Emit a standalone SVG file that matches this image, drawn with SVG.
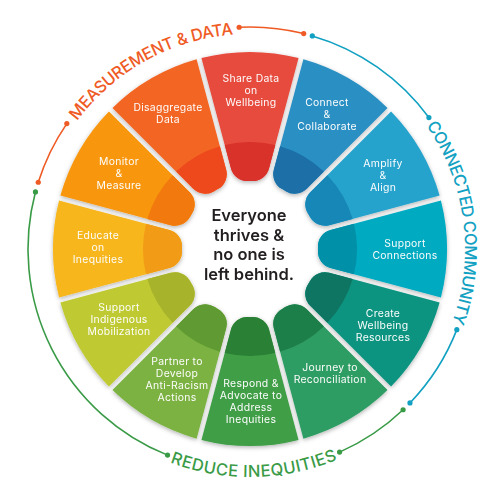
<svg xmlns="http://www.w3.org/2000/svg" width="500" height="500" viewBox="0 0 500 500">
<style>
.lbl{font-family:Inter,"Noto Sans",sans-serif;font-size:10.4px;letter-spacing:0.3px;fill:#fdfdfd;text-anchor:middle}
.ctr{font-family:Inter,"Noto Sans",sans-serif;font-size:16.5px;font-weight:600;fill:#231f20;text-anchor:middle}
.arc{font-family:Inter,"Noto Sans",sans-serif;font-size:16.5px;font-weight:500}
.ln{fill:none;stroke-width:1.6}
</style>
<defs>
<filter id="sh" x="-20%" y="-20%" width="140%" height="140%">
<feDropShadow dx="0" dy="1.5" stdDeviation="2" flood-color="#000" flood-opacity="0.3"/>
</filter>
<path id="seg" d="M48.57,-190.92 A197,197 0 0 0 -48.57,-190.92 L-19,-80.56 A17,17 0 0 0 -2.06,-67.97 A68,68 0 0 1 2.06,-67.97 A17,17 0 0 0 19,-80.56 Z"/>
<path id="band" d="M25.27,-103.98 A107,107 0 0 0 -25.27,-103.98 L-19,-80.56 A17,17 0 0 0 -2.06,-67.97 A68,68 0 0 1 2.06,-67.97 A17,17 0 0 0 19,-80.56 Z"/>
<path id="pTop" d="M77.17,121.11 A215,215 0 0 1 233.13,34.66"/>
<path id="pRight" d="M426.12,125.68 A215,215 0 0 1 452.03,322.53"/>
<path id="pBottom" d="M170.15,462.56 A228,228 0 0 0 337.25,459.64"/>
</defs>
<rect width="500" height="500" fill="#ffffff"/>

<g id="connectors">
<g stroke="#ef5b25" fill="#ef5b25">
<path class="ln" d="M38.27,182.24 A222,222 0 0 1 66.83,123.58"/>
<path class="ln" d="M239.16,27.26 A222,222 0 0 1 303.71,33.59"/>
<circle cx="38.27" cy="182.24" r="2.6" stroke="none"/><circle cx="66.83" cy="123.58" r="2.6" stroke="none"/>
<circle cx="239.16" cy="27.26" r="2.6" stroke="none"/><circle cx="303.71" cy="33.59" r="2.6" stroke="none"/>
</g>
<g stroke="#12a1c2" fill="#12a1c2">
<path class="ln" d="M312.31,35.92 A222,222 0 0 1 428.92,117.57"/>
<path class="ln" d="M456.83,329.64 A222,222 0 0 1 409.96,402.93"/>
<circle cx="312.31" cy="35.92" r="2.6" stroke="none"/><circle cx="428.92" cy="117.57" r="2.6" stroke="none"/>
<circle cx="456.83" cy="329.64" r="2.6" stroke="none"/><circle cx="409.96" cy="402.93" r="2.6" stroke="none"/>
</g>
<g stroke="#3a9b47" fill="#3a9b47">
<path class="ln" d="M403.1,409.77 A222,222 0 0 1 339.59,452.12"/>
<path class="ln" d="M167.56,455.12 A222,222 0 0 1 35.46,191.92"/>
<circle cx="403.1" cy="409.77" r="2.6" stroke="none"/><circle cx="339.59" cy="452.12" r="2.6" stroke="none"/>
<circle cx="167.56" cy="455.12" r="2.6" stroke="none"/><circle cx="35.46" cy="191.92" r="2.6" stroke="none"/>
</g>
</g>

<g id="theme-measurement"><text class="arc" fill="#ef5b25"><textPath href="#pTop" textLength="183.9" lengthAdjust="spacing">MEASUREMENT &amp; DATA</textPath></text></g>
<g id="theme-connected"><text class="arc" fill="#12a1c2"><textPath href="#pRight" textLength="206.4" lengthAdjust="spacing">CONNECTED COMMUNITY</textPath></text></g>
<g id="theme-reduce"><text class="arc" fill="#3a9b47"><textPath href="#pBottom" textLength="171.1" lengthAdjust="spacing">REDUCE INEQUITIES</textPath></text></g>

<g id="wheel" filter="url(#sh)">
<g id="n-share" transform="translate(250,249) rotate(0)"><use href="#seg" fill="#e74b3e"/><use href="#band" fill="#d8312a"/></g>
<g id="n-connect" transform="translate(250,249) rotate(30)"><use href="#seg" fill="#2a8fc3"/><use href="#band" fill="#1b6fa7"/></g>
<g id="n-amplify" transform="translate(250,249) rotate(60)"><use href="#seg" fill="#26a3cd"/><use href="#band" fill="#1787b7"/></g>
<g id="n-support-conn" transform="translate(250,249) rotate(90)"><use href="#seg" fill="#02aac1"/><use href="#band" fill="#0490a8"/></g>
<g id="n-create" transform="translate(250,249) rotate(120)"><use href="#seg" fill="#0a9481"/><use href="#band" fill="#087562"/></g>
<g id="n-journey" transform="translate(250,249) rotate(150)"><use href="#seg" fill="#2f9d64"/><use href="#band" fill="#1f7e48"/></g>
<g id="n-respond" transform="translate(250,249) rotate(180)"><use href="#seg" fill="#3f9e47"/><use href="#band" fill="#2a8034"/></g>
<g id="n-partner" transform="translate(250,249) rotate(210)"><use href="#seg" fill="#7bb243"/><use href="#band" fill="#5e9a30"/></g>
<g id="n-indigenous" transform="translate(250,249) rotate(240)"><use href="#seg" fill="#bfca33"/><use href="#band" fill="#a7b32a"/></g>
<g id="n-educate" transform="translate(250,249) rotate(270)"><use href="#seg" fill="#f6b61e"/><use href="#band" fill="#f29b16"/></g>
<g id="n-monitor" transform="translate(250,249) rotate(300)"><use href="#seg" fill="#f8970f"/><use href="#band" fill="#f27908"/></g>
<g id="n-disaggregate" transform="translate(250,249) rotate(330)"><use href="#seg" fill="#f36523"/><use href="#band" fill="#ee4a1b"/></g>
</g>

<g id="labels">
<text class="lbl"><tspan x="251" y="82">Share Data</tspan><tspan x="251" y="94">on</tspan><tspan x="251" y="106">Wellbeing</tspan></text>
<text class="lbl"><tspan x="327" y="106">Connect</tspan><tspan x="327" y="118">&amp;</tspan><tspan x="327" y="130">Collaborate</tspan></text>
<text class="lbl"><tspan x="383" y="167">Amplify</tspan><tspan x="383" y="179">&amp;</tspan><tspan x="383" y="191">Align</tspan></text>
<text class="lbl"><tspan x="405" y="247">Support</tspan><tspan x="405" y="259">Connections</tspan></text>
<text class="lbl"><tspan x="383" y="317">Create</tspan><tspan x="383" y="329">Wellbeing</tspan><tspan x="383" y="341">Resources</tspan></text>
<text class="lbl"><tspan x="330" y="371">Journey to</tspan><tspan x="330" y="383">Reconciliation</tspan></text>
<text class="lbl"><tspan x="251" y="387">Respond &amp;</tspan><tspan x="251" y="399">Advocate to</tspan><tspan x="251" y="411">Address</tspan><tspan x="251" y="423">Inequities</tspan></text>
<text class="lbl"><tspan x="177" y="365">Partner to</tspan><tspan x="177" y="377">Develop</tspan><tspan x="177" y="389">Anti-Racism</tspan><tspan x="177" y="401">Actions</tspan></text>
<text class="lbl"><tspan x="119" y="311">Support</tspan><tspan x="119" y="323">Indigenous</tspan><tspan x="119" y="335">Mobilization</tspan></text>
<text class="lbl"><tspan x="98" y="239">Educate</tspan><tspan x="98" y="251">on</tspan><tspan x="98" y="263">Inequities</tspan></text>
<text class="lbl"><tspan x="119" y="165">Monitor</tspan><tspan x="119" y="177">&amp;</tspan><tspan x="119" y="189">Measure</tspan></text>
<text class="lbl"><tspan x="168" y="111">Disaggregate</tspan><tspan x="168" y="123">Data</tspan></text>
</g>

<g id="center">
<text class="ctr"><tspan x="249" y="221">Everyone</tspan><tspan x="249" y="240.5">thrives &amp;</tspan><tspan x="249" y="260">no one is</tspan><tspan x="249" y="279.5">left behind.</tspan></text>
</g>
</svg>
